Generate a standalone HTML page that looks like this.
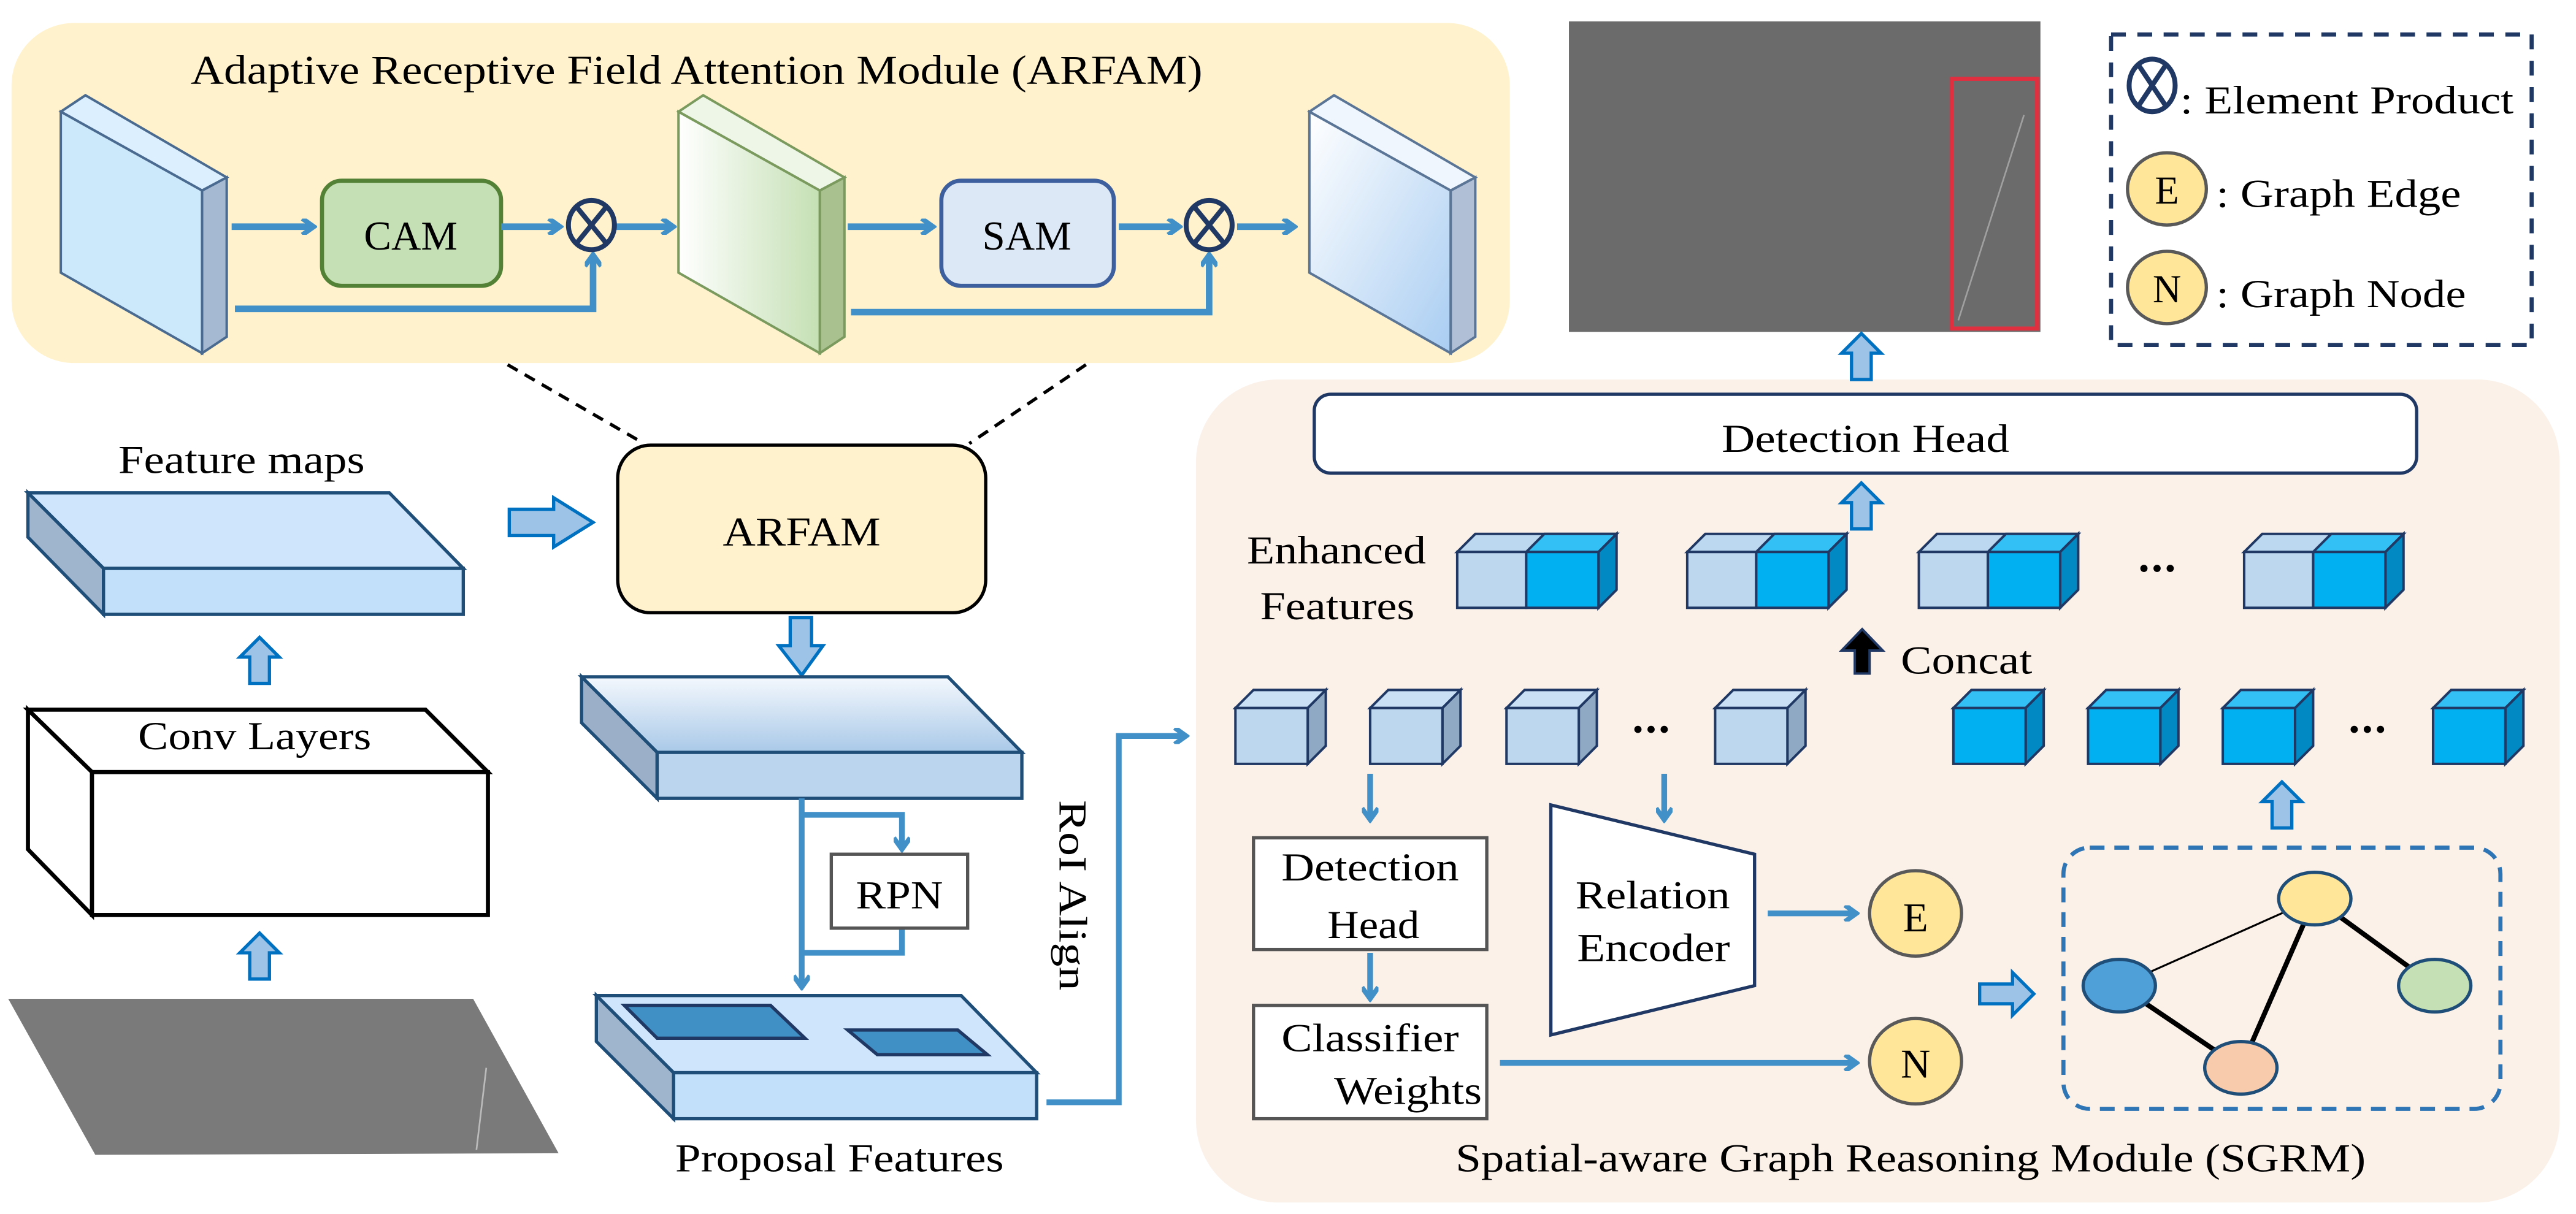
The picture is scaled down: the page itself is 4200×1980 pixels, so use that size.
<!DOCTYPE html>
<html><head><meta charset="utf-8"><style>
html,body{margin:0;padding:0;background:#fff;}
svg{display:block;}
text{font-family:"Liberation Serif","Times New Roman",serif;fill:#000;}
</style></head><body>
<svg width="4200" height="1980" viewBox="0 0 1568 739" preserveAspectRatio="none" xmlns="http://www.w3.org/2000/svg">
<defs>
<linearGradient id="gGreen" x1="0" y1="0" x2="1" y2="0"><stop offset="0" stop-color="#ffffff"/><stop offset="1" stop-color="#c5e0b4"/></linearGradient>
<linearGradient id="gBlue3" x1="0" y1="0" x2="1" y2="1"><stop offset="0" stop-color="#ffffff"/><stop offset="1" stop-color="#a9cdf2"/></linearGradient>
<linearGradient id="gSlab" x1="0" y1="0" x2="0" y2="1"><stop offset="0" stop-color="#f4f8fd"/><stop offset="1" stop-color="#a9c9e8"/></linearGradient>
<marker id="ah" markerWidth="10" markerHeight="10" refX="7" refY="5" orient="auto" markerUnits="userSpaceOnUse"><path d="M1,0 L8,5 L1,10" fill="none" stroke="#4191c8" stroke-width="3"/></marker>
<g id="cl"><polygon points="0,11 11,0 55,0 44,11" fill="#c9e0f5" stroke="#1f3864" stroke-width="1.5"/><polygon points="44,11 55,0 55,34 44,45" fill="#8fa9c4" stroke="#1f3864" stroke-width="1.5"/><rect x="0" y="11" width="44" height="34" fill="#bdd7ee" stroke="#1f3864" stroke-width="1.5"/></g>
<g id="cb"><polygon points="0,11 11,0 55,0 44,11" fill="#33c0f5" stroke="#1f3864" stroke-width="1.5"/><polygon points="44,11 55,0 55,34 44,45" fill="#0089c2" stroke="#1f3864" stroke-width="1.5"/><rect x="0" y="11" width="44" height="34" fill="#00b0f0" stroke="#1f3864" stroke-width="1.5"/></g>
<g id="ce"><polygon points="0,11 11,0 97,0 86,11" fill="#bcd8f0" stroke="#1f3864" stroke-width="1.5"/><polygon points="42,11 53,0 97,0 86,11" fill="#33c0f5" stroke="#1f3864" stroke-width="1.5"/><polygon points="86,11 97,0 97,34 86,45" fill="#0089c2" stroke="#1f3864" stroke-width="1.5"/><rect x="0" y="11" width="42" height="34" fill="#bdd7ee" stroke="#1f3864" stroke-width="1.5"/><rect x="42" y="11" width="44" height="34" fill="#00b0f0" stroke="#1f3864" stroke-width="1.5"/></g>
<g id="hu"><polygon points="-6,26 -6,10 -12,10 0,-2 12,10 6,10 6,26" fill="#9dc3e6" stroke="#0070c0" stroke-width="2"/></g>
<g id="otimes"><ellipse cx="0" cy="0" rx="14" ry="15" fill="#fff2cc" stroke="#1f3864" stroke-width="3"/><line x1="-9" y1="-11" x2="9" y2="11" stroke="#1f3864" stroke-width="3"/><line x1="9" y1="-11" x2="-9" y2="11" stroke="#1f3864" stroke-width="3"/></g>
</defs>

<rect x="7" y="14" width="912" height="207" rx="38" fill="#fff2cc"/>
<text x="116" y="51" font-size="25" textLength="616" lengthAdjust="spacingAndGlyphs">Adaptive Receptive Field Attention Module (ARFAM)</text>
<polygon points="37,68 52,58 138,108 123,116" fill="#dcefff" stroke="#4a6b8f" stroke-width="1.5"/>
<polygon points="123,116 138,108 138,205 123,215" fill="#a6b9d3" stroke="#4a6b8f" stroke-width="1.5"/>
<polygon points="37,68 123,116 123,215 37,166" fill="#cce8fb" stroke="#4a6b8f" stroke-width="1.5"/>
<polygon points="413,68 428,58 514,108 499,116" fill="#eef6e8" stroke="#7a9a5e" stroke-width="1.5"/>
<polygon points="499,116 514,108 514,205 499,215" fill="#a9c08f" stroke="#7a9a5e" stroke-width="1.5"/>
<polygon points="413,68 499,116 499,215 413,166" fill="url(#gGreen)" stroke="#7a9a5e" stroke-width="1.5"/>
<polygon points="797,68 812,58 898,108 883,116" fill="#f0f6fd" stroke="#5a7596" stroke-width="1.5"/>
<polygon points="883,116 898,108 898,205 883,215" fill="#b1bfd6" stroke="#5a7596" stroke-width="1.5"/>
<polygon points="797,68 883,116 883,215 797,166" fill="url(#gBlue3)" stroke="#5a7596" stroke-width="1.5"/>
<rect x="196" y="110" width="109" height="64" rx="12" fill="#c5e0b4" stroke="#538135" stroke-width="2.5"/>
<text x="250" y="152" font-size="25" text-anchor="middle">CAM</text>
<rect x="573" y="110" width="105" height="64" rx="12" fill="#dde8f6" stroke="#3d5f9e" stroke-width="2.5"/>
<text x="625" y="152" font-size="25" text-anchor="middle">SAM</text>
<g stroke="#4191c8" stroke-width="4" fill="none">
<line x1="141" y1="138" x2="190" y2="138" marker-end="url(#ah)"/>
<line x1="305" y1="138" x2="340" y2="138" marker-end="url(#ah)"/>
<line x1="375" y1="138" x2="409" y2="138" marker-end="url(#ah)"/>
<line x1="516" y1="138" x2="567" y2="138" marker-end="url(#ah)"/>
<line x1="681" y1="138" x2="717" y2="138" marker-end="url(#ah)"/>
<line x1="753" y1="138" x2="787" y2="138" marker-end="url(#ah)"/>
<polyline points="143,188 361,188 361,156" marker-end="url(#ah)"/>
<polyline points="518,190 736,190 736,156" marker-end="url(#ah)"/>
</g>
<use href="#otimes" x="360" y="137"/>
<use href="#otimes" x="736" y="137"/>

<line x1="309" y1="222" x2="392" y2="270" stroke="#000" stroke-width="2" stroke-dasharray="7,5"/>
<line x1="661" y1="222" x2="590" y2="270" stroke="#000" stroke-width="2" stroke-dasharray="7,5"/>

<rect x="955" y="13" width="287" height="189" fill="#6b6b6b"/>
<line x1="1192" y1="195" x2="1232" y2="70" stroke="#a0a0a0" stroke-width="1"/>
<rect x="1188" y="48" width="52" height="152" fill="none" stroke="#e03040" stroke-width="2.5"/>

<rect x="1285" y="21" width="256" height="189" fill="#fff" stroke="#1f3864" stroke-width="2.5" stroke-dasharray="9,7"/>
<g transform="translate(1310,52)"><ellipse rx="14" ry="16" fill="#fff" stroke="#1f3864" stroke-width="3"/><line x1="-8" y1="-12" x2="8" y2="12" stroke="#1f3864" stroke-width="3"/><line x1="8" y1="-12" x2="-8" y2="12" stroke="#1f3864" stroke-width="3"/></g>
<text x="1327" y="69" font-size="24" textLength="203" lengthAdjust="spacingAndGlyphs">: Element Product</text>
<ellipse cx="1319" cy="115" rx="24" ry="22" fill="#ffe699" stroke="#595959" stroke-width="2"/>
<text x="1319" y="124" font-size="24" text-anchor="middle">E</text>
<text x="1349" y="126" font-size="24" textLength="149" lengthAdjust="spacingAndGlyphs">: Graph Edge</text>
<ellipse cx="1319" cy="175" rx="24" ry="22" fill="#ffe699" stroke="#595959" stroke-width="2"/>
<text x="1319" y="184" font-size="24" text-anchor="middle">N</text>
<text x="1349" y="187" font-size="24" textLength="152" lengthAdjust="spacingAndGlyphs">: Graph Node</text>

<text x="72" y="288" font-size="24" textLength="150" lengthAdjust="spacingAndGlyphs">Feature maps</text>
<polygon points="17,300 237,300 282,346 63,346" fill="#cfe5fb" stroke="#1f4e79" stroke-width="2"/>
<polygon points="17,300 63,346 63,374 17,327" fill="#9fb5ce" stroke="#1f4e79" stroke-width="2"/>
<rect x="63" y="346" width="219" height="28" fill="#c3e0fb" stroke="#1f4e79" stroke-width="2"/>
<use href="#hu" x="158" y="390"/>
<polygon points="17,432 259,432 297,470 56,470" fill="#fff" stroke="#000" stroke-width="2.5"/>
<polygon points="17,432 56,470 56,557 17,517" fill="#fff" stroke="#000" stroke-width="2.5"/>
<rect x="56" y="470" width="241" height="87" fill="#fff" stroke="#000" stroke-width="2.5"/>
<text x="84" y="456" font-size="24" textLength="142" lengthAdjust="spacingAndGlyphs">Conv Layers</text>
<use href="#hu" x="158" y="570"/>
<polygon points="5,608 288,608 340,702 58,703" fill="#7a7a7a"/>
<line x1="290" y1="700" x2="296" y2="650" stroke="#bbb" stroke-width="1"/>

<polygon points="310,310 337,310 337,303 361,318 337,333 337,326 310,326" fill="#9dc3e6" stroke="#0070c0" stroke-width="2"/>
<rect x="376" y="271" width="224" height="102" rx="20" fill="#fff2cc" stroke="#000" stroke-width="2"/>
<text x="440" y="332" font-size="25" textLength="96" lengthAdjust="spacingAndGlyphs">ARFAM</text>
<polygon points="481,376 494,376 494,393 501,393 488,411 474,393 481,393" fill="#9dc3e6" stroke="#0070c0" stroke-width="2"/>
<polygon points="354,412 577,412 622,458 400,458" fill="url(#gSlab)" stroke="#1f4e79" stroke-width="2"/>
<polygon points="354,412 400,458 400,486 354,440" fill="#9bb0c8" stroke="#1f4e79" stroke-width="2"/>
<rect x="400" y="458" width="222" height="28" fill="#bcd5ee" stroke="#1f4e79" stroke-width="2"/>
<g stroke="#4191c8" stroke-width="3.5" fill="none">
<polyline points="488,486 488,600" marker-end="url(#ah)"/>
<polyline points="488,496 549,496 549,516" marker-end="url(#ah)"/>
<polyline points="549,565 549,580 488,580"/>
<polyline points="637,671 681,671 681,448 721,448" marker-end="url(#ah)"/>
</g>
<rect x="506" y="520" width="83" height="45" fill="#fff" stroke="#555" stroke-width="2"/>
<text x="521" y="553" font-size="24" textLength="53" lengthAdjust="spacingAndGlyphs">RPN</text>
<polygon points="363,606 585,606 631,653 410,653" fill="#cfe5fb" stroke="#1f4e79" stroke-width="2"/>
<polygon points="363,606 410,653 410,681 363,634" fill="#9fb5ce" stroke="#1f4e79" stroke-width="2"/>
<rect x="410" y="653" width="221" height="28" fill="#c3e0fb" stroke="#1f4e79" stroke-width="2"/>
<polygon points="380,612 469,612 490,632 400,632" fill="#4090c6" stroke="#1f3864" stroke-width="2"/>
<polygon points="516,627 583,627 601,642 534,642" fill="#4090c6" stroke="#1f3864" stroke-width="2"/>
<text x="411" y="713" font-size="24" textLength="200" lengthAdjust="spacingAndGlyphs">Proposal Features</text>
<text transform="translate(645,487) rotate(90)" font-size="24" textLength="116" lengthAdjust="spacingAndGlyphs">RoI Align</text>

<rect x="728" y="231" width="830" height="501" rx="50" fill="#fbf1e9"/>
<use href="#hu" x="1133" y="205"/>
<rect x="800" y="240" width="671" height="48" rx="10" fill="#fff" stroke="#1f3864" stroke-width="2"/>
<text x="1048" y="275" font-size="24" textLength="175" lengthAdjust="spacingAndGlyphs">Detection Head</text>
<use href="#hu" x="1133" y="296"/>
<text x="759" y="343" font-size="24" textLength="109" lengthAdjust="spacingAndGlyphs">Enhanced</text>
<text x="767" y="377" font-size="24" textLength="94" lengthAdjust="spacingAndGlyphs">Features</text>
<use href="#ce" x="887" y="325"/>
<use href="#ce" x="1027" y="325"/>
<use href="#ce" x="1168" y="325"/>
<use href="#ce" x="1366" y="325"/>
<g fill="#000"><circle cx="1305" cy="346" r="2.2"/><circle cx="1313" cy="346" r="2.2"/><circle cx="1321" cy="346" r="2.2"/></g>
<polygon points="1129,410 1129,396 1121,396 1133.5,383 1146,396 1138,396 1138,410" fill="#000" stroke="#1f3864" stroke-width="1.5"/>
<text x="1157" y="410" font-size="24" textLength="80" lengthAdjust="spacingAndGlyphs">Concat</text>
<use href="#cl" x="752" y="420"/>
<use href="#cl" x="834" y="420"/>
<use href="#cl" x="917" y="420"/>
<use href="#cl" x="1044" y="420"/>
<g fill="#000"><circle cx="997" cy="444" r="2.2"/><circle cx="1005" cy="444" r="2.2"/><circle cx="1013" cy="444" r="2.2"/></g>
<use href="#cb" x="1189" y="420"/>
<use href="#cb" x="1271" y="420"/>
<use href="#cb" x="1353" y="420"/>
<use href="#cb" x="1481" y="420"/>
<g fill="#000"><circle cx="1433" cy="444" r="2.2"/><circle cx="1441" cy="444" r="2.2"/><circle cx="1449" cy="444" r="2.2"/></g>
<g stroke="#4191c8" stroke-width="3.5" fill="none">
<line x1="834" y1="471" x2="834" y2="498" marker-end="url(#ah)"/>
<line x1="1013" y1="471" x2="1013" y2="498" marker-end="url(#ah)"/>
<line x1="834" y1="580" x2="834" y2="607" marker-end="url(#ah)"/>
<line x1="1076" y1="556" x2="1129" y2="556" marker-end="url(#ah)"/>
<line x1="913" y1="647" x2="1129" y2="647" marker-end="url(#ah)"/>
</g>
<rect x="763" y="510" width="142" height="68" fill="#fff" stroke="#555" stroke-width="2"/>
<text x="780" y="536" font-size="24" textLength="108" lengthAdjust="spacingAndGlyphs">Detection</text>
<text x="808" y="571" font-size="24" textLength="56" lengthAdjust="spacingAndGlyphs">Head</text>
<rect x="763" y="612" width="142" height="69" fill="#fff" stroke="#555" stroke-width="2"/>
<text x="780" y="640" font-size="24" textLength="108" lengthAdjust="spacingAndGlyphs">Classifier</text>
<text x="812" y="672" font-size="24" textLength="90" lengthAdjust="spacingAndGlyphs">Weights</text>
<polygon points="944,490 1068,520 1068,600 944,630" fill="#fff" stroke="#1f3864" stroke-width="2"/>
<text x="959" y="553" font-size="24" textLength="94" lengthAdjust="spacingAndGlyphs">Relation</text>
<text x="960" y="585" font-size="24" textLength="93" lengthAdjust="spacingAndGlyphs">Encoder</text>
<ellipse cx="1166" cy="556" rx="28" ry="26" fill="#ffe699" stroke="#595959" stroke-width="2"/>
<text x="1166" y="567" font-size="25" text-anchor="middle">E</text>
<ellipse cx="1166" cy="646" rx="28" ry="26" fill="#ffe699" stroke="#595959" stroke-width="2"/>
<text x="1166" y="656" font-size="25" text-anchor="middle">N</text>
<polygon points="1205,599 1225,599 1225,592 1238,605 1225,618 1225,611 1205,611" fill="#9dc3e6" stroke="#0070c0" stroke-width="2"/>
<rect x="1256" y="516" width="266" height="159" rx="16" fill="none" stroke="#2e75b6" stroke-width="2.5" stroke-dasharray="9,6"/>
<line x1="1409" y1="547" x2="1290" y2="600" stroke="#000" stroke-width="1.2"/>
<line x1="1409" y1="547" x2="1364" y2="650" stroke="#000" stroke-width="3"/>
<line x1="1409" y1="547" x2="1482" y2="600" stroke="#000" stroke-width="3"/>
<line x1="1290" y1="600" x2="1364" y2="650" stroke="#000" stroke-width="3"/>
<ellipse cx="1409" cy="547" rx="22" ry="16" fill="#ffe699" stroke="#1f4e79" stroke-width="2"/>
<ellipse cx="1290" cy="600" rx="22" ry="16" fill="#4f9fd8" stroke="#1f4e79" stroke-width="2"/>
<ellipse cx="1482" cy="600" rx="22" ry="16" fill="#c5e0b4" stroke="#1f4e79" stroke-width="2"/>
<ellipse cx="1364" cy="650" rx="22" ry="16" fill="#f8cbad" stroke="#1f4e79" stroke-width="2"/>
<use href="#hu" x="1389" y="478"/>
<text x="886" y="713" font-size="24" textLength="554" lengthAdjust="spacingAndGlyphs">Spatial-aware Graph Reasoning Module (SGRM)</text>
</svg>
</body></html>
